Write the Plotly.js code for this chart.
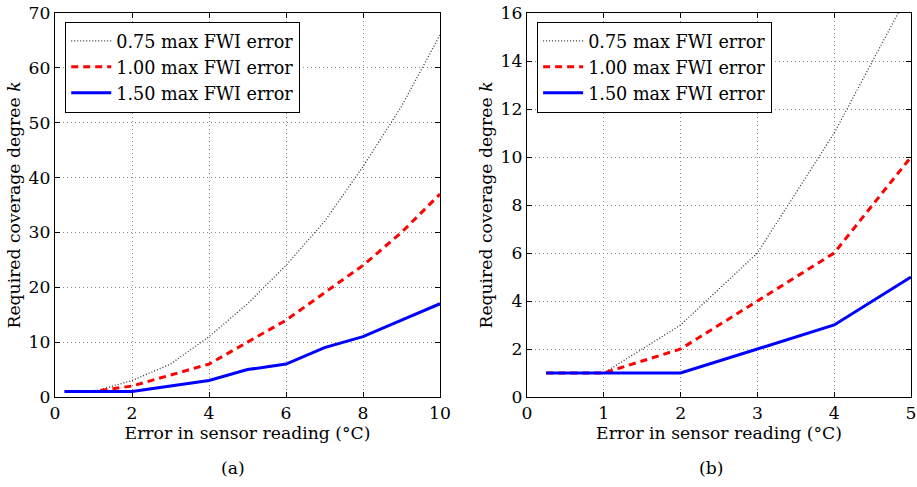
<!DOCTYPE html>
<html><head><meta charset="utf-8">
<script src="https://cdn.plot.ly/plotly-3.0.1.min.js"></script>
<style>body{margin:0;background:#fff}#c{width:917px;height:487px}</style>
</head><body><div id="c"></div>
<script>
// Panel (a)
const xA = [0.25, 1, 2, 3, 4, 5, 6, 7, 8, 9, 10];
const a075 = [1, 1, 3, 6, 11, 17, 24, 32, 42, 53, 66];
const a100 = [1, 1, 2, 4, 6, 10, 14, 19, 24, 30, 37];
const a150 = [1, 1, 1, 2, 3, 5, 6, 9, 11, 14, 17];
// Panel (b)
const xB = [0.25, 1, 2, 3, 4, 5];
const b075 = [1, 1, 3, 6, 11, 17];
const b100 = [1, 1, 2, 4, 6, 10];
const b150 = [1, 1, 1, 2, 3, 5];
const names = ['0.75 max FWI error', '1.00 max FWI error', '1.50 max FWI error'];
const xTicksA = [0, 2, 4, 6, 8, 10];
const yTicksA = [0, 10, 20, 30, 40, 50, 60, 70];
const xTicksB = [0, 1, 2, 3, 4, 5];
const yTicksB = [0, 2, 4, 6, 8, 10, 12, 14, 16];
const xTitle = 'Error in sensor reading (°C)';
const yTitle = 'Required coverage degree <i>k</i>';

const styles = [
  {color: '#333', width: 1.3, dash: '1px,2px'},
  {color: '#ff0000', width: 3, dash: '7px,5px'},
  {color: '#0000ff', width: 3, dash: 'solid'}
];
const traces = [];
[a075, a100, a150].forEach((y, i) => traces.push({x: xA, y: y, name: names[i], type: 'scatter', mode: 'lines', line: styles[i], xaxis: 'x', yaxis: 'y', legend: 'legend'}));
[b075, b100, b150].forEach((y, i) => traces.push({x: xB, y: y, name: names[i], type: 'scatter', mode: 'lines', line: styles[i], xaxis: 'x2', yaxis: 'y2', legend: 'legend2'}));

const font = {family: 'DejaVu Serif, Liberation Serif, serif', size: 17.2, color: '#000'};
const lfont = {family: 'DejaVu Serif, Liberation Serif, serif', size: 17.6, color: '#000'};
function ax(extra) {
  return Object.assign({
    showline: true, mirror: 'ticks', linecolor: '#000', linewidth: 1.2,
    ticks: 'inside', ticklen: 5, tickcolor: '#000',
    showgrid: true, gridcolor: '#8a8a8a', griddash: '1px,3px', gridwidth: 1,
    zeroline: false, tickfont: font
  }, extra);
}
const legendStyle = {font: lfont, bgcolor: '#fff', bordercolor: '#000', borderwidth: 1.2,
  xanchor: 'left', yanchor: 'top', tracegroupgap: 0, itemwidth: 40};

const layout = {
  width: 917, height: 487,
  margin: {l: 55, r: 6, t: 13, b: 90},
  paper_bgcolor: '#fff', plot_bgcolor: '#fff',
  font: font, showlegend: true,
  xaxis: ax({domain: [0, 0.4498], range: [0, 10], tickvals: xTicksA, anchor: 'y',
    title: {text: xTitle, font: font, standoff: 1}}),
  yaxis: ax({range: [0, 70], tickvals: yTicksA, anchor: 'x',
    title: {text: yTitle, font: font, standoff: 3}}),
  xaxis2: ax({domain: [0.5514, 1], range: [0, 5], tickvals: xTicksB, anchor: 'y2',
    title: {text: xTitle, font: font, standoff: 1}}),
  yaxis2: ax({range: [0, 16], tickvals: yTicksB, anchor: 'x2',
    title: {text: yTitle, font: font, standoff: 3}}),
  legend: Object.assign({x: 0.0117, y: 0.977}, legendStyle),
  legend2: Object.assign({x: 0.563, y: 0.977}, legendStyle),
  annotations: [
    {text: '(a)', xref: 'paper', yref: 'paper', x: 0.2077, y: -0.185, xanchor: 'center', yanchor: 'middle', showarrow: false, font: font},
    {text: '(b)', xref: 'paper', yref: 'paper', x: 0.7669, y: -0.185, xanchor: 'center', yanchor: 'middle', showarrow: false, font: font}
  ]
};
Plotly.newPlot('c', traces, layout, {displayModeBar: false, staticPlot: true});
</script></body></html>
